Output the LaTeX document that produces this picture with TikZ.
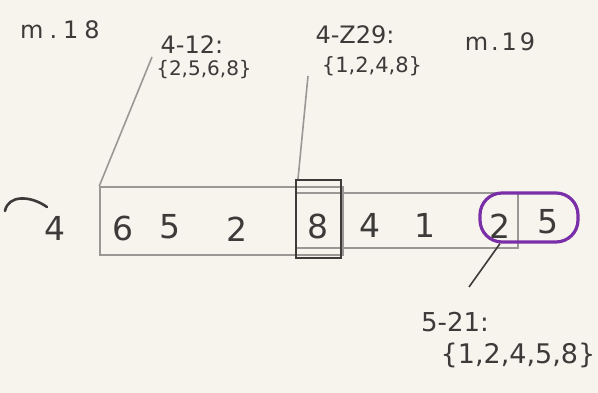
\documentclass[tikz,border=0pt]{standalone}
\usepackage{fontspec}
\setsansfont{DejaVu Sans}
\begin{document}
\begin{tikzpicture}[x=1pt,y=-1pt,
  pencil/.style={draw=pencilgray,line width=1.6pt},
  darkpencil/.style={draw=darkgray,line width=2pt},
  numtext/.style={text=darkgray,font=\sffamily\fontsize{33}{35}\selectfont,inner sep=0pt},
  lbltext/.style={text=darkgray,font=\sffamily\fontsize{#1}{#1}\selectfont,inner sep=0pt},
  boxn/.style={inner sep=0pt,minimum width=#1},
]
\definecolor{paper}{HTML}{F7F4EE}
\definecolor{pencilgray}{HTML}{9A9894}
\definecolor{darkgray}{HTML}{3C3B3A}
\definecolor{violet}{HTML}{7A2FA8}
\fill[paper] (0,0) rectangle (598,393);
\useasboundingbox (0,0) rectangle (598,393);

% boxes
\node[pencil,boxn=243pt,minimum height=68pt] (A) at (221.5,221) {};
\node[pencil,boxn=222pt,minimum height=55pt] (B) at (407,220.5) {};
\node[darkpencil,boxn=45pt,minimum height=78pt] (E) at (318.5,219) {};
\node[draw=violet,line width=3.2pt,rounded corners=22pt,boxn=98pt,minimum height=49pt] (P) at (529,217.5) {};

% numbers
\node[numtext] (n1) at (123,228) {6};
\node[numtext] (n2) at (170,227) {5};
\node[numtext] (n3) at (237,229) {2};
\node[numtext] (n4) at (318,226) {8};
\node[numtext] (n5) at (370,225) {4};
\node[numtext] (n6) at (425,225) {1};
\node[numtext] (n7) at (500,226) {2};
\node[numtext] (n8) at (548,222) {5};
\node[numtext] (n0) at (55,228) {4};

% labels
\node[lbltext=24] (m18) at (60,30) {\addfontfeature{LetterSpace=25}m.18};
\node[lbltext=24] (l1a) at (192,45) {4-12:};
\node[lbltext=20] (l1b) at (204,70) {\{2,5,6,8\}};
\node[lbltext=24] (l2a) at (355,35) {4-Z29:};
\node[lbltext=21] (l2b) at (372,66) {\{1,2,4,8\}};
\node[lbltext=24] (m19) at (500,42) {\addfontfeature{LetterSpace=12}m.19};
\node[lbltext=26] (l3a) at (455,322) {5-21:};
\node[lbltext=27] (l3b) at (518,355) {\{1,2,4,5,8\}};

% connectors
\coordinate (t1) at (152,57);
\coordinate (t2) at (308,76);
\coordinate (t3) at (469,287);
\draw[pencil] (A.north west) -- (t1);
\draw[pencil] ([xshift=3pt]E.north west) -- (t2);
\draw[darkpencil,line width=1.6pt] ([xshift=-29pt]P.south) -- (t3);

% hook near the 4
\coordinate (h1) at (5,211);
\coordinate (h2) at (47,207);
\draw[darkpencil,line width=2.6pt,line cap=round] (h1) .. controls (8,195) and (30,195) .. (h2);
\end{tikzpicture}
\end{document}
